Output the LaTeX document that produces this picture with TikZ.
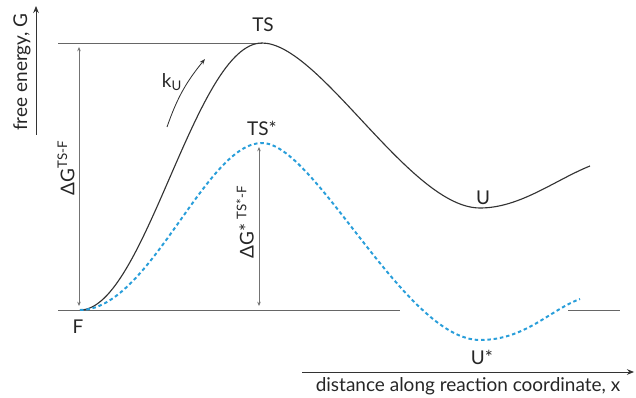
\documentclass[tikz,border=0pt]{standalone}
\usepackage{fontspec}
\setmainfont{Lato}
\usetikzlibrary{arrows.meta}
\definecolor{cblue}{RGB}{41,158,218}
\begin{document}
\begin{tikzpicture}[x=.025cm,y=-.025cm,line width=.6pt,
  lbl/.style={inner sep=1pt,text=black!85,font=\fontsize{13.5}{15}\selectfont},
  ax/.style={-{Stealth[length=5pt,width=4pt]},line width=.7pt,black!80},
  dg/.style={{Stealth[length=3pt,width=2.5pt]}-{Stealth[length=3pt,width=2.5pt]},black!55,line width=.5pt},
  level/.style={black!60,line width=.6pt},
  curveG/.style={black!80,line width=.8pt},
  curveS/.style={cblue,line width=1.4pt,dash pattern=on 2.5pt off 2pt}]
\useasboundingbox (0,0) rectangle (636,398);
% states
\coordinate (f) at (80,310); \coordinate (ts) at (262,43); \coordinate (u) at (480,208); \coordinate (uend) at (590,166);
\coordinate (tss) at (262,143); \coordinate (us) at (480,340); \coordinate (usend) at (580,299);
% axes
\coordinate (y0) at (36,135); \coordinate (y1) at (36,6); \coordinate (x0) at (302,372); \coordinate (x1) at (634,372);
\draw[ax] (y0)--(y1); \draw[ax] (x0)--(x1);
\node[lbl,rotate=90] (ylab) at (22,72) {free energy, G};
\node[lbl] (xlab) at (468,386) {distance along reaction coordinate, x};
% reference levels
\coordinate (l0) at (58,43); \coordinate (b0) at (58,310); \coordinate (b1) at (400,310); \coordinate (b2) at (568,310); \coordinate (b3) at (620,310);
\draw[level] (l0)--(ts); \draw[level] (b0)--(b1) (b2)--(b3);
% barriers
\coordinate (d0) at (79,306); \coordinate (d1) at (79,47); \coordinate (e0) at (259,306); \coordinate (e1) at (259,147);
\draw[dg] (d0)--(d1); \draw[dg] (e0)--(e1);
\node[lbl,rotate=90] (dgl) at (66,168) {ΔG\textsuperscript{TS-F}};
\node[lbl,rotate=90] (dgsl) at (245,222) {ΔG* \textsuperscript{TS*-F}};
% profiles
\draw[curveG] (f) .. controls (145,310) and (195,43) .. (ts) .. controls (320,43) and (410,208) .. (u) .. controls (520,208) and (555,180) .. (uend);
\draw[curveS] (f) .. controls (150,310) and (205,143) .. (tss) .. controls (315,143) and (405,340) .. (us) .. controls (525,340) and (550,310) .. (usend);
% labels
\node[lbl] (tsl) at (263,25) {TS}; \node[lbl] (tssl) at (262,128) {TS*};
\node[lbl] (ul) at (483,198) {U}; \node[lbl] (usl) at (482,357) {U*}; \node[lbl] (fl) at (78,327) {F};
% rate
\coordinate (k0) at (167,127); \coordinate (k1) at (205,59);
\draw[-{Stealth[length=4pt,width=3pt]},black!80,line width=.6pt] (k0) to[bend left=10] (k1);
\node[lbl] (kl) at (172,82) {k\textsubscript{U}};
\end{tikzpicture}
\end{document}
